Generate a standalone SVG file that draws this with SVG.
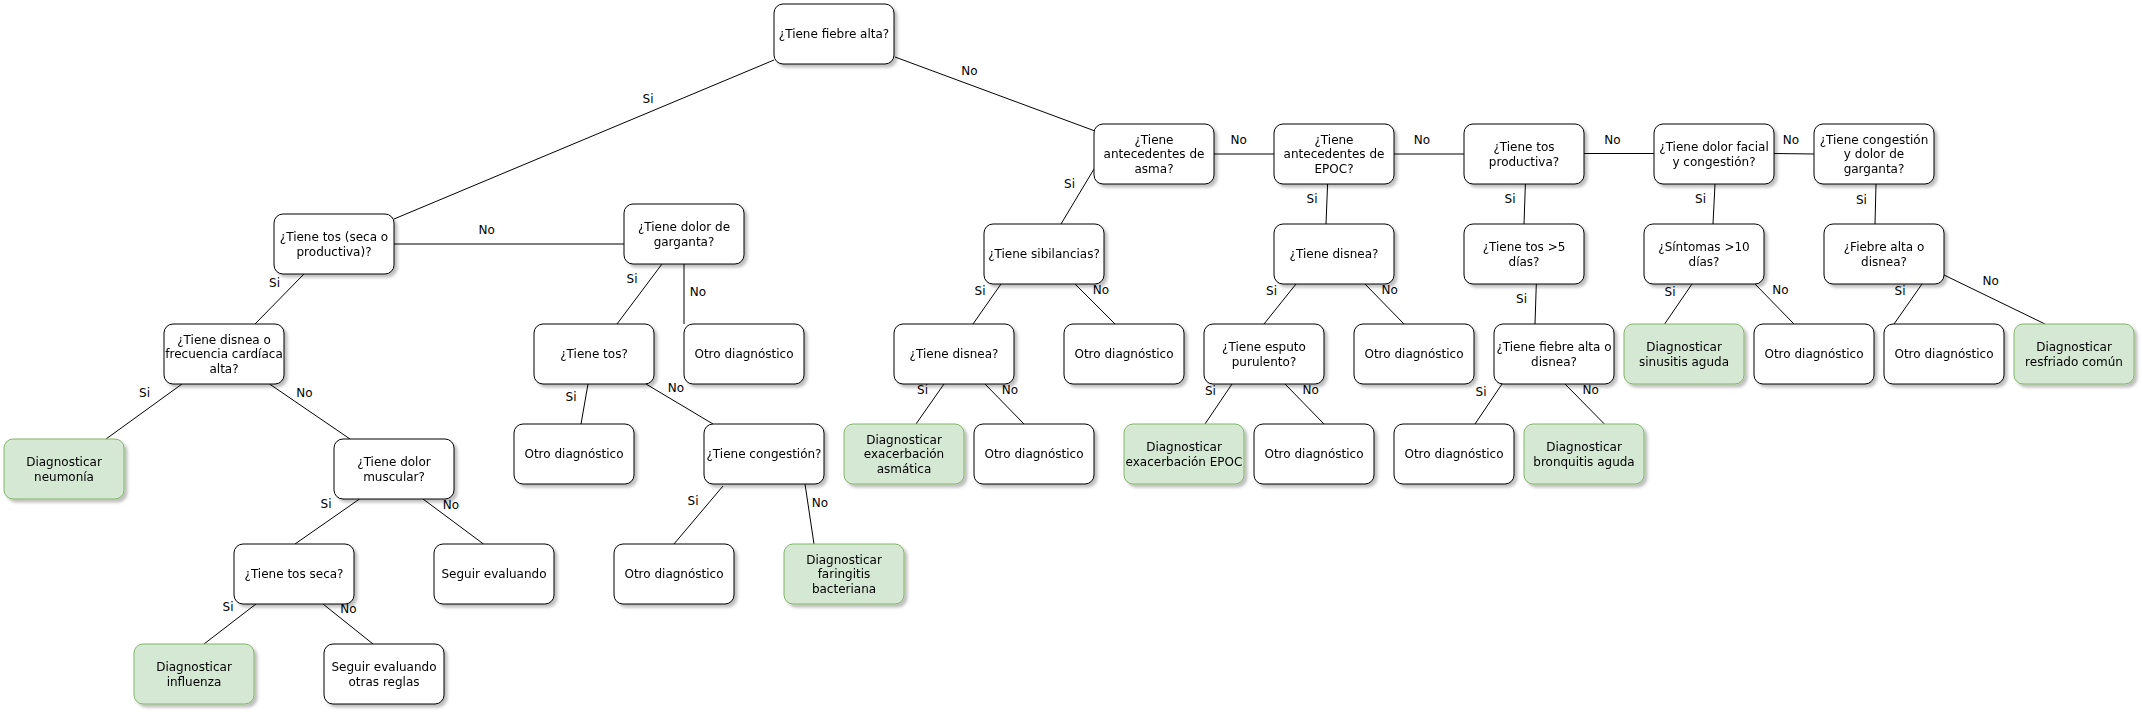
<svg xmlns="http://www.w3.org/2000/svg" width="2142" height="713" viewBox="0 0 2142 713">
<defs>
<filter id="sh" x="-10%" y="-10%" width="130%" height="130%">
<feDropShadow dx="3" dy="3" stdDeviation="1.5" flood-color="#000" flood-opacity="0.25"/>
</filter>
<style>
.n rect{fill:#fff;stroke:#000;stroke-width:1;}
.g rect{fill:#d5e8d4;stroke:#82b366;stroke-width:1;}
.n,.g{filter:url(#sh);}
text{font-family:"DejaVu Sans",Verdana,sans-serif;font-size:12px;fill:#000;text-anchor:middle;}
#edges line{stroke:#000;stroke-width:1;fill:none;}
</style>
</defs>
<rect x="0" y="0" width="2142" height="713" fill="#fff"/>
<g id="edges">
<line x1="394" y1="219" x2="774" y2="60"/>
<line x1="895" y1="57" x2="1095" y2="131"/>
<line x1="394" y1="244" x2="624" y2="244"/>
<line x1="304" y1="274" x2="255" y2="324"/>
<line x1="182" y1="384" x2="106" y2="439"/>
<line x1="269.5" y1="384" x2="350" y2="439"/>
<line x1="359.5" y1="499" x2="295" y2="544"/>
<line x1="423" y1="499" x2="483.5" y2="544"/>
<line x1="256" y1="604" x2="204" y2="644"/>
<line x1="323" y1="604" x2="373" y2="644"/>
<line x1="662" y1="264" x2="617" y2="324"/>
<line x1="684" y1="264" x2="684" y2="324"/>
<line x1="588" y1="384" x2="581" y2="424"/>
<line x1="646" y1="384" x2="713" y2="424"/>
<line x1="723" y1="486" x2="674" y2="544"/>
<line x1="805" y1="484" x2="814" y2="544"/>
<line x1="1214" y1="154" x2="1274" y2="154"/>
<line x1="1094" y1="169" x2="1061" y2="224"/>
<line x1="1001" y1="284" x2="973" y2="324"/>
<line x1="1075" y1="284" x2="1115" y2="324"/>
<line x1="944" y1="384" x2="916" y2="424"/>
<line x1="985" y1="384" x2="1024" y2="424"/>
<line x1="1327.6" y1="184" x2="1326" y2="224"/>
<line x1="1394" y1="154" x2="1464" y2="154"/>
<line x1="1296" y1="284" x2="1264" y2="324"/>
<line x1="1365" y1="284" x2="1404" y2="324"/>
<line x1="1232" y1="384" x2="1205" y2="424"/>
<line x1="1285" y1="384" x2="1324" y2="424"/>
<line x1="1584" y1="153.5" x2="1654" y2="153.5"/>
<line x1="1525.4" y1="184" x2="1524" y2="224"/>
<line x1="1536.3" y1="284" x2="1535" y2="324"/>
<line x1="1502" y1="384" x2="1475" y2="424"/>
<line x1="1565" y1="384" x2="1604.4" y2="424"/>
<line x1="1774" y1="153.5" x2="1814" y2="154"/>
<line x1="1715" y1="184" x2="1713" y2="224"/>
<line x1="1692" y1="284" x2="1664.6" y2="324"/>
<line x1="1755" y1="284" x2="1794" y2="324"/>
<line x1="1876" y1="184" x2="1875" y2="224"/>
<line x1="1922" y1="284" x2="1894" y2="324"/>
<line x1="1944" y1="275" x2="2045" y2="324"/>
<text x="648" y="103.3">Si</text>
<text x="969.5" y="75.3">No</text>
<text x="486.7" y="234.3">No</text>
<text x="274.6" y="287.3">Si</text>
<text x="144.6" y="397.3">Si</text>
<text x="304.4" y="397.3">No</text>
<text x="326" y="508.3">Si</text>
<text x="451" y="509.3">No</text>
<text x="228" y="611.3">Si</text>
<text x="348.5" y="613.3">No</text>
<text x="632" y="283.3">Si</text>
<text x="698" y="296.3">No</text>
<text x="571" y="401.3">Si</text>
<text x="676" y="392.3">No</text>
<text x="693" y="505.3">Si</text>
<text x="820" y="507.3">No</text>
<text x="1238.6" y="144.3">No</text>
<text x="1069.6" y="188.3">Si</text>
<text x="980" y="295.3">Si</text>
<text x="1101" y="294.3">No</text>
<text x="922.6" y="394.3">Si</text>
<text x="1010" y="394.3">No</text>
<text x="1312" y="203.3">Si</text>
<text x="1422" y="144.3">No</text>
<text x="1271.6" y="295.3">Si</text>
<text x="1389.6" y="294.3">No</text>
<text x="1210.4" y="395.3">Si</text>
<text x="1310.6" y="394.3">No</text>
<text x="1612.5" y="144.3">No</text>
<text x="1510" y="203.3">Si</text>
<text x="1521.6" y="303.3">Si</text>
<text x="1481" y="396.3">Si</text>
<text x="1590.7" y="394.3">No</text>
<text x="1791" y="144.3">No</text>
<text x="1700.5" y="203.3">Si</text>
<text x="1670" y="296.3">Si</text>
<text x="1780.5" y="294.3">No</text>
<text x="1861.4" y="204.3">Si</text>
<text x="1900" y="295.3">Si</text>
<text x="1990.6" y="285.3">No</text>
</g>
<g id="root" class="n"><rect x="774" y="4" width="120" height="60" rx="9"/><text x="834" y="38.3">¿Tiene fiebre alta?</text></g>
<g id="tos" class="n"><rect x="274" y="214" width="120" height="60" rx="9"/><text x="334" y="241.1">¿Tiene tos (seca o</text><text x="334" y="255.5">productiva)?</text></g>
<g id="garganta" class="n"><rect x="624" y="204" width="120" height="60" rx="9"/><text x="684" y="231.1">¿Tiene dolor de</text><text x="684" y="245.5">garganta?</text></g>
<g id="disneaFC" class="n"><rect x="164" y="324" width="120" height="60" rx="9"/><text x="224" y="343.9">¿Tiene disnea o</text><text x="224" y="358.3">frecuencia cardíaca</text><text x="224" y="372.7">alta?</text></g>
<g id="neumonia" class="g"><rect x="4" y="439" width="120" height="60" rx="9"/><text x="64" y="466.1">Diagnosticar</text><text x="64" y="480.5">neumonía</text></g>
<g id="muscular" class="n"><rect x="334" y="439" width="120" height="60" rx="9"/><text x="394" y="466.1">¿Tiene dolor</text><text x="394" y="480.5">muscular?</text></g>
<g id="tosSeca" class="n"><rect x="234" y="544" width="120" height="60" rx="9"/><text x="294" y="578.3">¿Tiene tos seca?</text></g>
<g id="seguir1" class="n"><rect x="434" y="544" width="120" height="60" rx="9"/><text x="494" y="578.3">Seguir evaluando</text></g>
<g id="influenza" class="g"><rect x="134" y="644" width="120" height="60" rx="9"/><text x="194" y="671.1">Diagnosticar</text><text x="194" y="685.5">influenza</text></g>
<g id="seguir2" class="n"><rect x="324" y="644" width="120" height="60" rx="9"/><text x="384" y="671.1">Seguir evaluando</text><text x="384" y="685.5">otras reglas</text></g>
<g id="tos2" class="n"><rect x="534" y="324" width="120" height="60" rx="9"/><text x="594" y="358.3">¿Tiene tos?</text></g>
<g id="otro1" class="n"><rect x="684" y="324" width="120" height="60" rx="9"/><text x="744" y="358.3">Otro diagnóstico</text></g>
<g id="otro2" class="n"><rect x="514" y="424" width="120" height="60" rx="9"/><text x="574" y="458.3">Otro diagnóstico</text></g>
<g id="congestion" class="n"><rect x="704" y="424" width="120" height="60" rx="9"/><text x="764" y="458.3">¿Tiene congestión?</text></g>
<g id="otro3" class="n"><rect x="614" y="544" width="120" height="60" rx="9"/><text x="674" y="578.3">Otro diagnóstico</text></g>
<g id="faringitis" class="g"><rect x="784" y="544" width="120" height="60" rx="9"/><text x="844" y="563.9">Diagnosticar</text><text x="844" y="578.3">faringitis</text><text x="844" y="592.7">bacteriana</text></g>
<g id="asma" class="n"><rect x="1094" y="124" width="120" height="60" rx="9"/><text x="1154" y="143.9">¿Tiene</text><text x="1154" y="158.3">antecedentes de</text><text x="1154" y="172.7">asma?</text></g>
<g id="sibilancias" class="n"><rect x="984" y="224" width="120" height="60" rx="9"/><text x="1044" y="258.3">¿Tiene sibilancias?</text></g>
<g id="disneaA" class="n"><rect x="894" y="324" width="120" height="60" rx="9"/><text x="954" y="358.3">¿Tiene disnea?</text></g>
<g id="otro4" class="n"><rect x="1064" y="324" width="120" height="60" rx="9"/><text x="1124" y="358.3">Otro diagnóstico</text></g>
<g id="exAsma" class="g"><rect x="844" y="424" width="120" height="60" rx="9"/><text x="904" y="443.9">Diagnosticar</text><text x="904" y="458.3">exacerbación</text><text x="904" y="472.7">asmática</text></g>
<g id="otro5" class="n"><rect x="974" y="424" width="120" height="60" rx="9"/><text x="1034" y="458.3">Otro diagnóstico</text></g>
<g id="epoc" class="n"><rect x="1274" y="124" width="120" height="60" rx="9"/><text x="1334" y="143.9">¿Tiene</text><text x="1334" y="158.3">antecedentes de</text><text x="1334" y="172.7">EPOC?</text></g>
<g id="disneaE" class="n"><rect x="1274" y="224" width="120" height="60" rx="9"/><text x="1334" y="258.3">¿Tiene disnea?</text></g>
<g id="esputo" class="n"><rect x="1204" y="324" width="120" height="60" rx="9"/><text x="1264" y="351.1">¿Tiene esputo</text><text x="1264" y="365.5">purulento?</text></g>
<g id="otro6" class="n"><rect x="1354" y="324" width="120" height="60" rx="9"/><text x="1414" y="358.3">Otro diagnóstico</text></g>
<g id="exEpoc" class="g"><rect x="1124" y="424" width="120" height="60" rx="9"/><text x="1184" y="451.1">Diagnosticar</text><text x="1184" y="465.5">exacerbación EPOC</text></g>
<g id="otro7" class="n"><rect x="1254" y="424" width="120" height="60" rx="9"/><text x="1314" y="458.3">Otro diagnóstico</text></g>
<g id="tosProd" class="n"><rect x="1464" y="124" width="120" height="60" rx="9"/><text x="1524" y="151.1">¿Tiene tos</text><text x="1524" y="165.5">productiva?</text></g>
<g id="tos5" class="n"><rect x="1464" y="224" width="120" height="60" rx="9"/><text x="1524" y="251.1">¿Tiene tos &gt;5</text><text x="1524" y="265.5">días?</text></g>
<g id="fiebreDisnea" class="n"><rect x="1494" y="324" width="120" height="60" rx="9"/><text x="1554" y="351.1">¿Tiene fiebre alta o</text><text x="1554" y="365.5">disnea?</text></g>
<g id="otro8" class="n"><rect x="1394" y="424" width="120" height="60" rx="9"/><text x="1454" y="458.3">Otro diagnóstico</text></g>
<g id="bronquitis" class="g"><rect x="1524" y="424" width="120" height="60" rx="9"/><text x="1584" y="451.1">Diagnosticar</text><text x="1584" y="465.5">bronquitis aguda</text></g>
<g id="facial" class="n"><rect x="1654" y="124" width="120" height="60" rx="9"/><text x="1714" y="151.1">¿Tiene dolor facial</text><text x="1714" y="165.5">y congestión?</text></g>
<g id="sintomas" class="n"><rect x="1644" y="224" width="120" height="60" rx="9"/><text x="1704" y="251.1">¿Síntomas &gt;10</text><text x="1704" y="265.5">días?</text></g>
<g id="sinusitis" class="g"><rect x="1624" y="324" width="120" height="60" rx="9"/><text x="1684" y="351.1">Diagnosticar</text><text x="1684" y="365.5">sinusitis aguda</text></g>
<g id="otro9" class="n"><rect x="1754" y="324" width="120" height="60" rx="9"/><text x="1814" y="358.3">Otro diagnóstico</text></g>
<g id="congGarg" class="n"><rect x="1814" y="124" width="120" height="60" rx="9"/><text x="1874" y="143.9">¿Tiene congestión</text><text x="1874" y="158.3">y dolor de</text><text x="1874" y="172.7">garganta?</text></g>
<g id="fiebreD2" class="n"><rect x="1824" y="224" width="120" height="60" rx="9"/><text x="1884" y="251.1">¿Fiebre alta o</text><text x="1884" y="265.5">disnea?</text></g>
<g id="otro10" class="n"><rect x="1884" y="324" width="120" height="60" rx="9"/><text x="1944" y="358.3">Otro diagnóstico</text></g>
<g id="resfriado" class="g"><rect x="2014" y="324" width="120" height="60" rx="9"/><text x="2074" y="351.1">Diagnosticar</text><text x="2074" y="365.5">resfriado común</text></g>
</svg>
